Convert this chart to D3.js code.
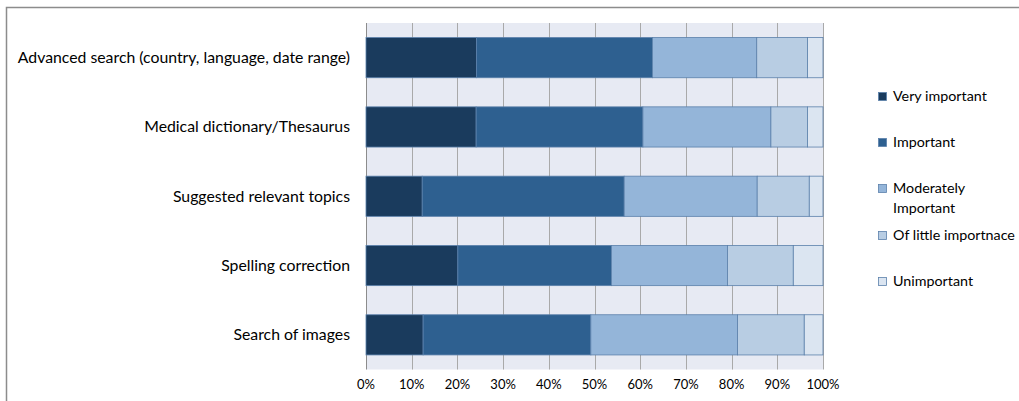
<!DOCTYPE html>
<html>
<head>
<meta charset="utf-8">
<script src="https://cdn.jsdelivr.net/npm/d3@7"></script>
<style>
  body { margin: 0; background: #fff; }
  text { font-family: Lato, "Open Sans", sans-serif; fill: #000; }
</style>
</head>
<body>
<div class="container"></div>
<script>
// chart data
var categories = [
    'Advanced search (country, language, date range)',
    'Medical dictionary/Thesaurus',
    'Suggested relevant topics',
    'Spelling correction',
    'Search of images'
];
var series = ['Very important', 'Important', 'Moderately Important', 'Of little importnace', 'Unimportant'];
var veryImportant     = [24.2, 24.1, 12.3, 20.1, 12.5];
var important         = [38.5, 36.5, 44.2, 33.6, 36.7];
var moderately        = [22.8, 28.0, 29.1, 25.4, 32.1];
var littleImportance  = [11.1,  8.0, 11.4, 14.4, 14.6];
var unimportant       = [ 3.4,  3.4,  3.0,  6.5,  4.1];
var ticks = [0, 10, 20, 30, 40, 50, 60, 70, 80, 90, 100];

var colors = ['#1a3b5d', '#2e6090', '#94b5d9', '#b8cde3', '#dbe5f1'];

var rows = categories.map(function(c, i) {
    return {
        cat: c,
        v: [veryImportant[i], important[i], moderately[i], littleImportance[i], unimportant[i]]
    };
});
rows.forEach(function(r) {
    var total = d3.sum(r.v);
    var acc = 0;
    r.segs = r.v.map(function(v, k) {
        var s = { k: k, x0: acc / total * 100, x1: (acc + v) / total * 100 };
        acc += v;
        return s;
    });
});

var W = 1019, H = 401;
var svg = d3.select('.container')
    .append('svg')
    .attr('width', W)
    .attr('height', H);

// outer frame
svg.append('path')
    .attr('d', 'M6.5,' + H + ' V7.5 H' + W)
    .style('fill', 'none')
    .style('stroke', '#8c8c8c')
    .style('stroke-width', 1.5);

var plotLeft = 366, plotRight = 823, plotTop = 23, plotBottom = 369.5;

var x = d3.scaleLinear().domain([0, 100]).range([plotLeft, plotRight]);
var y = d3.scaleBand().domain(categories).range([plotTop, plotBottom]).paddingInner(0.42).paddingOuter(0.21);

svg.append('rect')
    .attr('x', plotLeft)
    .attr('y', plotTop)
    .attr('width', plotRight - plotLeft)
    .attr('height', plotBottom - plotTop)
    .style('fill', '#e7eaf3');

svg.selectAll('.grid')
    .data(ticks)
    .enter()
    .append('line')
    .attr('class', 'grid')
    .attr('x1', d => Math.round(x(d)) + 0.5)
    .attr('x2', d => Math.round(x(d)) + 0.5)
    .attr('y1', plotTop)
    .attr('y2', plotBottom)
    .style('stroke', d => d === 0 ? '#8c8c8c' : '#a9a9a9')
    .style('stroke-width', 1);

var g = svg.selectAll('.row')
    .data(rows)
    .enter()
    .append('g')
    .attr('class', 'row');

g.selectAll('rect')
    .data(d => d.segs.map(s => Object.assign({ cat: d.cat }, s)))
    .enter()
    .append('rect')
    .attr('x', d => x(d.x0))
    .attr('y', d => y(d.cat))
    .attr('width', d => x(d.x1) - x(d.x0))
    .attr('height', y.bandwidth())
    .style('fill', d => colors[d.k])
    .style('stroke', '#5b80ab')
    .style('stroke-width', 0.8);

// category labels
svg.selectAll('.cat')
    .data(categories)
    .enter()
    .append('text')
    .attr('class', 'cat')
    .attr('x', 350)
    .attr('y', d => y(d) + y.bandwidth() / 2)
    .attr('dy', '0.35em')
    .attr('text-anchor', 'end')
    .style('font-size', '15.8px')
    .text(d => d);

// x tick labels
svg.selectAll('.tick-label')
    .data(ticks)
    .enter()
    .append('text')
    .attr('class', 'tick-label')
    .attr('x', d => x(d))
    .attr('y', 389)
    .attr('text-anchor', 'middle')
    .style('font-size', '13px')
    .text(d => d + '%');

// legend
var legendY = [96, 142, 188, 235, 281];
var lg = svg.selectAll('.legend')
    .data(series)
    .enter()
    .append('g')
    .attr('class', 'legend')
    .attr('transform', (d, i) => 'translate(878,' + legendY[i] + ')');

lg.append('rect')
    .attr('x', 0.5)
    .attr('y', -3.5)
    .attr('width', 8)
    .attr('height', 8)
    .style('fill', (d, i) => colors[i])
    .style('stroke', '#5b80ab')
    .style('stroke-width', 0.8);

lg.append('text')
    .attr('x', 15)
    .attr('y', 0)
    .style('font-size', '14.3px')
    .each(function(d) {
        var t = d3.select(this);
        if (d === 'Moderately Important') {
            t.append('tspan').attr('x', 15).attr('dy', '0.35em').text('Moderately');
            t.append('tspan').attr('x', 15).attr('dy', '1.4em').text('Important');
        } else {
            t.attr('dy', '0.35em').text(d);
        }
    });
</script>
</body>
</html>
